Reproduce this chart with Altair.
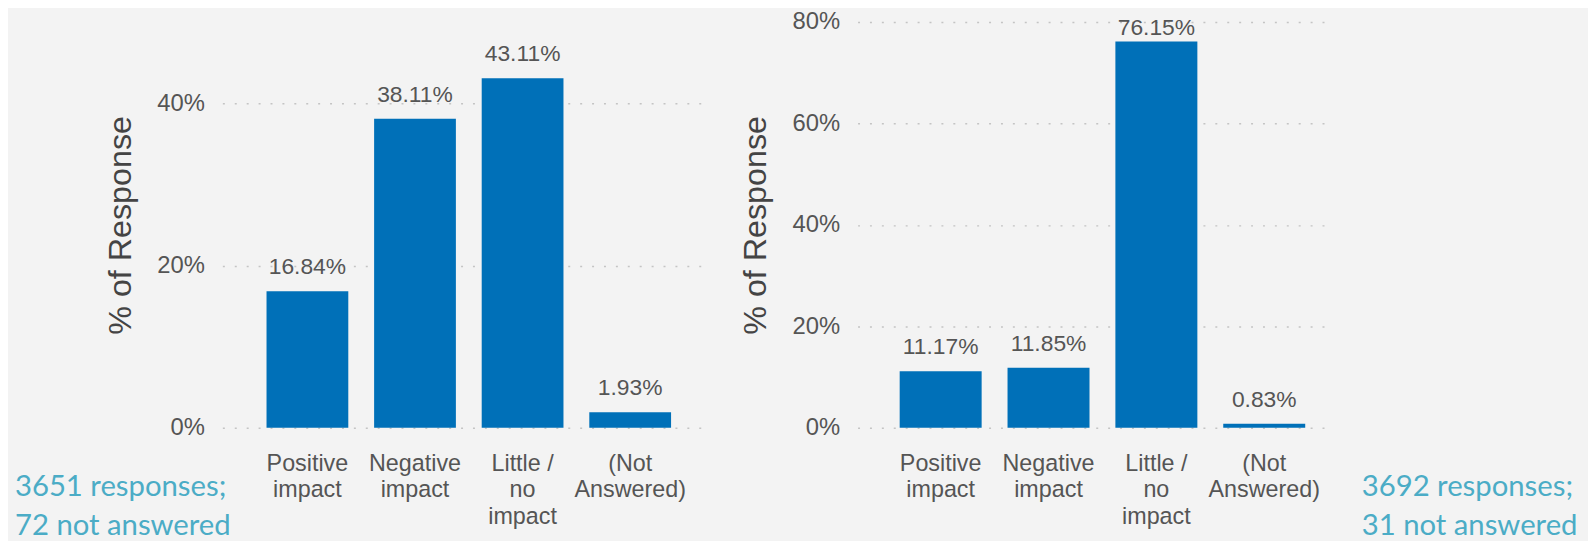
import altair as alt
import pandas as pd

categories = ["Positive\nimpact", "Negative\nimpact", "Little /\nno\nimpact", "(Not\nAnswered)"]
left_values = [16.84, 38.11, 43.11, 1.93]
right_values = [11.17, 11.85, 76.15, 0.83]
y_ticks_left = [0, 20, 40]
y_ticks_right = [0, 20, 40, 60, 80]
left_note = "3651 responses;\n72 not answered"
right_note = "3692 responses;\n31 not answered"

BAR = "#0070B8"
TXT = "#555555"
TEAL = "#4BACC6"
BG = "#F3F3F3"
FONT = "Liberation Sans"


def panel(values, ticks, ymax, label_cap, width, pad_outer, align, note, note_x):
    df = pd.DataFrame({"cat": categories, "val": values})
    base = alt.Chart(df).transform_calculate(
        lab="format(datum.val, '.2f') + '%'",
        lab_y=f"min(datum.val, {label_cap})",
    )
    x = alt.X(
        "cat:N",
        sort=categories,
        scale=alt.Scale(paddingInner=0.24, paddingOuter=pad_outer, align=align),
        axis=alt.Axis(
            title=None, labelAngle=0, ticks=False, domain=False, grid=False,
            labelExpr="split(datum.label, '\\n')", labelBaseline="top",
            labelPadding=24, labelLineHeight=26.5, labelFontSize=23.5,
            labelColor=TXT, labelFont=FONT,
        ),
    )
    yscale = alt.Scale(domain=[0, ymax], nice=False, zero=True)
    y = alt.Y(
        "val:Q",
        scale=yscale,
        axis=alt.Axis(
            title="% of Response", values=ticks, labelExpr="datum.value + '%'",
            ticks=False, tickSize=0, domain=False, grid=True,
            gridColor="#C4C4C4", gridDash=[2, 10], gridWidth=1.5,
            labelPadding=18, labelFontSize=24, labelColor=TXT, labelFont=FONT,
            titleFontSize=32.5, titleFontWeight="normal", titleColor="#444444",
            titleFont=FONT, titlePadding=20,
        ),
    )
    bars = base.mark_bar(color=BAR).encode(x=x, y=y)
    labels = base.mark_text(
        baseline="alphabetic", dy=-17, fontSize=23, color=TXT, font=FONT
    ).encode(x=x, y=alt.Y("lab_y:Q", scale=yscale), text="lab:N")
    note_mark = alt.Chart(pd.DataFrame({"t": [note]})).mark_text(
        align="left", baseline="alphabetic", fontSize=29.5, font="Lato",
        color=TEAL, lineBreak="\n", lineHeight=39,
    ).encode(x=alt.value(note_x), y=alt.value(478), text="t:N")
    return alt.layer(bars, labels, note_mark).properties(width=width, height=409)


left = panel(left_values, y_ticks_left, 50.06, 50.06, 490, 0.38, 0.54, left_note, -209)
right = panel(right_values, y_ticks_right, 80, 74.1, 476, 0.31, 0.63, right_note, 508)

chart = alt.hconcat(left, right, spacing=30).properties(
    background=BG,
    padding={"left": 7, "top": 0, "right": 10, "bottom": 0},
).configure_view(stroke=None)

chart.save("out.html", embed_options={"renderer": "svg", "actions": False})
